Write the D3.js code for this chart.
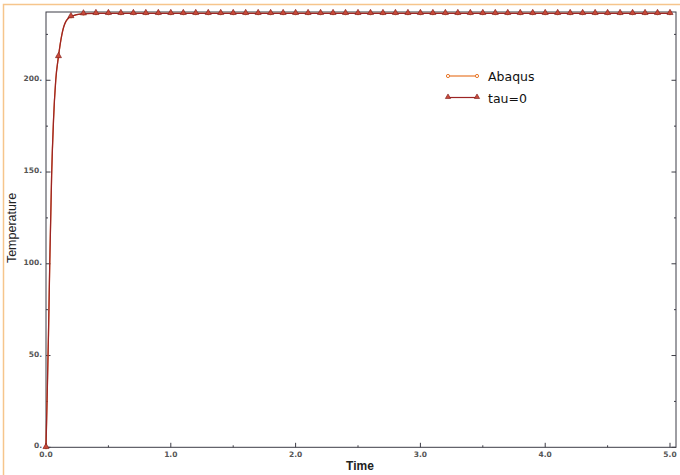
<!DOCTYPE html>
<meta charset="utf-8">
<script src="https://d3js.org/d3.v7.min.js"></script>
<style>
  body { margin: 0; background: #fff; }
</style>
<div id="my_dataviz"></div>
<script>

  // time points (markers sit on the 0.1 steps)
  var times = [0, 0.01, 0.02, 0.03, 0.045, 0.06, 0.078, 0.1, 0.126, 0.152, 0.2,
    0.3, 0.4, 0.5, 0.6, 0.7, 0.8, 0.9, 1.0, 1.1, 1.2, 1.3, 1.4, 1.5, 1.6, 1.7, 1.8, 1.9,
    2.0, 2.1, 2.2, 2.3, 2.4, 2.5, 2.6, 2.7, 2.8, 2.9, 3.0, 3.1, 3.2, 3.3, 3.4, 3.5, 3.6,
    3.7, 3.8, 3.9, 4.0, 4.1, 4.2, 4.3, 4.4, 4.5, 4.6, 4.7, 4.8, 4.9, 5.0]

  // tau=0 temperatures
  var tauTemp = [0, 30, 62, 100, 148, 178, 200, 213, 224.5, 231, 234.8,
    236.3, 236.5, 236.5, 236.5, 236.5, 236.5, 236.5, 236.5, 236.5, 236.5, 236.5, 236.5, 236.5, 236.5, 236.5, 236.5, 236.5,
    236.5, 236.5, 236.5, 236.5, 236.5, 236.5, 236.5, 236.5, 236.5, 236.5, 236.5, 236.5, 236.5, 236.5, 236.5, 236.5, 236.5,
    236.5, 236.5, 236.5, 236.5, 236.5, 236.5, 236.5, 236.5, 236.5, 236.5, 236.5, 236.5, 236.5, 236.5]

  // Abaqus temperatures (lie under the tau=0 curve)
  var abaqusTemp = [0, 30, 62, 100, 148, 178, 200, 213, 224.5, 231, 234.8,
    236.3, 236.5, 236.5, 236.5, 236.5, 236.5, 236.5, 236.5, 236.5, 236.5, 236.5, 236.5, 236.5, 236.5, 236.5, 236.5, 236.5,
    236.5, 236.5, 236.5, 236.5, 236.5, 236.5, 236.5, 236.5, 236.5, 236.5, 236.5, 236.5, 236.5, 236.5, 236.5, 236.5, 236.5,
    236.5, 236.5, 236.5, 236.5, 236.5, 236.5, 236.5, 236.5, 236.5, 236.5, 236.5, 236.5, 236.5, 236.5]

  var xTicks = [0, 1, 2, 3, 4, 5]
  var xMinor = [0.5, 1.5, 2.5, 3.5, 4.5]
  var yTicks = [0, 50, 100, 150, 200]
  var yMinor = [25, 75, 125, 175, 225]
  var seriesNames = ["Abaqus", "tau=0"]

  var W = 680, H = 475
  var margin = {top: 12, left: 46}
  var width = 630, height = 435.3

  var svg = d3.select("#my_dataviz")
    .append("svg")
      .attr("width", W)
      .attr("height", H)

  // orange outer border (cut off at right/bottom)
  svg.append("rect")
    .attr("x", 3.5).attr("y", 4.5)
    .attr("width", W + 10).attr("height", H + 10)
    .attr("fill", "none")
    .attr("stroke", "#f6c58c")
    .attr("stroke-width", 1.5)

  var g = svg.append("g")
    .attr("transform", "translate(" + margin.left + "," + margin.top + ")")

  var x = d3.scaleLinear().domain([0, 5.048]).range([0, width])
  var y = d3.scaleLinear().domain([0, 237.2]).range([height, 0])

  // frame
  g.append("rect")
    .attr("x", 0).attr("y", 0)
    .attr("width", width).attr("height", height)
    .attr("fill", "none")
    .attr("stroke", "#3c3c46")
    .attr("stroke-width", 1)

  var tickColor = "#3c3c46"
  // x ticks (inward, up)
  g.selectAll(".xt").data(xTicks).enter().append("line")
    .attr("x1", function(d){ return x(d) }).attr("x2", function(d){ return x(d) })
    .attr("y1", height).attr("y2", height - 4.5)
    .attr("stroke", tickColor)
  g.selectAll(".xm").data(xMinor).enter().append("line")
    .attr("x1", function(d){ return x(d) }).attr("x2", function(d){ return x(d) })
    .attr("y1", height).attr("y2", height - 2)
    .attr("stroke", tickColor)
  // y ticks left and right
  g.selectAll(".yt").data(yTicks).enter().append("line")
    .attr("x1", 0).attr("x2", 4.5)
    .attr("y1", function(d){ return y(d) }).attr("y2", function(d){ return y(d) })
    .attr("stroke", tickColor)
  g.selectAll(".ym").data(yMinor).enter().append("line")
    .attr("x1", 0).attr("x2", 2)
    .attr("y1", function(d){ return y(d) }).attr("y2", function(d){ return y(d) })
    .attr("stroke", tickColor)
  g.selectAll(".ytr").data(yTicks).enter().append("line")
    .attr("x1", width).attr("x2", width - 4.5)
    .attr("y1", function(d){ return y(d) }).attr("y2", function(d){ return y(d) })
    .attr("stroke", tickColor)
  g.selectAll(".ymr").data(yMinor).enter().append("line")
    .attr("x1", width).attr("x2", width - 2)
    .attr("y1", function(d){ return y(d) }).attr("y2", function(d){ return y(d) })
    .attr("stroke", tickColor)

  // tick labels
  g.selectAll(".xl").data(xTicks).enter().append("text")
    .attr("x", function(d){ return x(d) })
    .attr("y", height + 9.5)
    .attr("text-anchor", "middle")
    .style("font-family", "DejaVu Sans")
    .style("font-size", "7.5px")
    .style("font-weight", "bold")
    .style("fill", "#555")
    .text(function(d){ return d.toFixed(1) })
  g.selectAll(".yl").data(yTicks).enter().append("text")
    .attr("x", -4)
    .attr("y", function(d){ return y(d) + 1 })
    .attr("text-anchor", "end")
    .style("font-family", "DejaVu Sans")
    .style("font-size", "7.5px")
    .style("font-weight", "bold")
    .style("fill", "#555")
    .text(function(d){ return d + "." })

  // axis titles
  svg.append("text")
    .attr("x", 360).attr("y", 470)
    .attr("text-anchor", "middle")
    .style("font-family", "Liberation Sans, Arial")
    .style("font-size", "12px")
    .style("font-weight", "bold")
    .style("fill", "#222")
    .text("Time")
  svg.append("text")
    .attr("transform", "translate(16,228) rotate(-90)")
    .attr("text-anchor", "middle")
    .style("font-family", "Liberation Sans, Arial")
    .style("font-size", "12.5px")
    .style("fill", "#222")
    .text("Temperature")

  var abaqusData = times.map(function(t, i){ return {t: t, v: abaqusTemp[i]} })
  var tauData = times.map(function(t, i){ return {t: t, v: tauTemp[i]} })
  function onStep(d) { return Math.abs(d.t * 10 - Math.round(d.t * 10)) < 1e-6 }

  var line = d3.line()
    .x(function(d){ return x(d.t) })
    .y(function(d){ return y(d.v) })
    .curve(d3.curveMonotoneX)

  var abaqusColor = "#e8782a", tauColor = "#9c2424"

  // Abaqus
  g.append("path").datum(abaqusData)
    .attr("d", line).attr("fill", "none")
    .attr("stroke", abaqusColor).attr("stroke-width", 1.2)
  g.selectAll(".ac").data(abaqusData.filter(onStep)).enter().append("circle")
    .attr("cx", function(d){ return x(d.t) }).attr("cy", function(d){ return y(d.v) })
    .attr("r", 1.5).attr("fill", "#fff").attr("stroke", abaqusColor)

  // tau=0
  g.append("path").datum(tauData)
    .attr("d", line).attr("fill", "none")
    .attr("stroke", tauColor).attr("stroke-width", 1.3)
  var tri = d3.symbol().type(d3.symbolTriangle).size(16)
  g.selectAll(".tt").data(tauData.filter(onStep)).enter().append("path")
    .attr("d", tri)
    .attr("transform", function(d){ return "translate(" + x(d.t) + "," + (y(d.v) - 0.5) + ")" })
    .attr("fill", "#c84a3a").attr("stroke", "#7a1a1a").attr("stroke-width", 0.6)

  // legend
  var leg = svg.append("g")
  var legY = [76, 97.5]
  var legColors = [abaqusColor, tauColor]
  seriesNames.forEach(function(name, i) {
    leg.append("line")
      .attr("x1", 448).attr("x2", 477)
      .attr("y1", legY[i]).attr("y2", legY[i])
      .attr("stroke", legColors[i]).attr("stroke-width", 1.2)
    if (i === 0) {
      leg.selectAll(".lc").data([448, 477]).enter().append("circle")
        .attr("cx", function(d){ return d }).attr("cy", legY[i])
        .attr("r", 1.6).attr("fill", "#fff").attr("stroke", abaqusColor)
    } else {
      leg.selectAll(".lt").data([448, 477]).enter().append("path")
        .attr("d", d3.symbol().type(d3.symbolTriangle).size(12))
        .attr("transform", function(d){ return "translate(" + d + "," + (legY[i] - 0.5) + ")" })
        .attr("fill", "#c84a3a").attr("stroke", "#7a1a1a").attr("stroke-width", 0.6)
    }
    leg.append("text")
      .attr("x", 488).attr("y", legY[i] + 5)
      .style("font-family", "DejaVu Sans")
      .style("font-size", "12.5px")
      .style("fill", "#111")
      .text(name)
  })

</script>
